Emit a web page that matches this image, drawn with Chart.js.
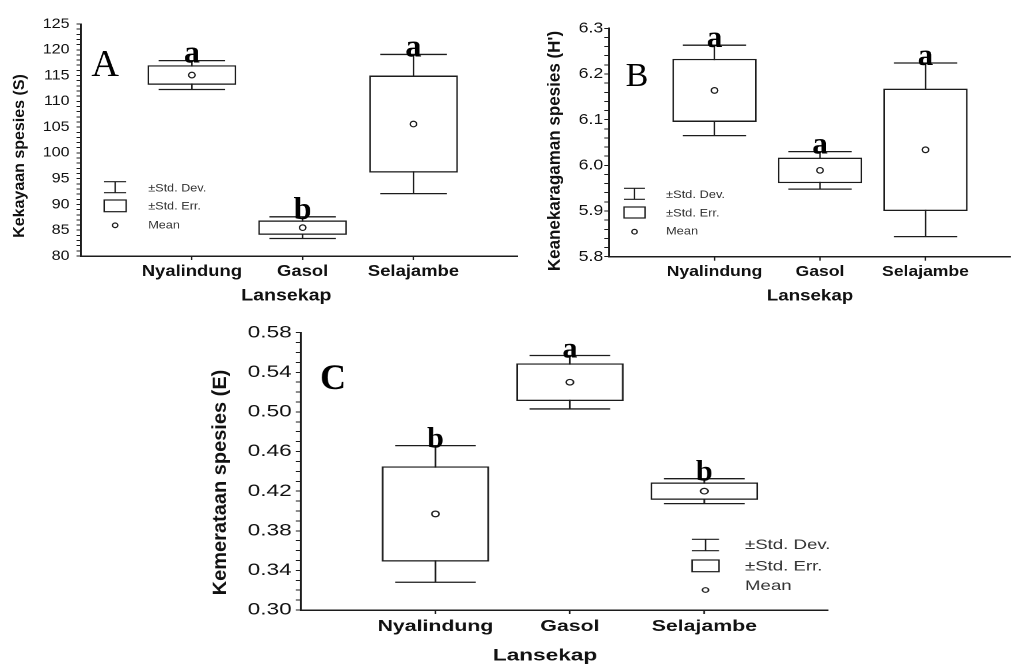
<!DOCTYPE html>
<html lang="id">
<head>
<meta charset="UTF-8">
<title>Kekayaan, keanekaragaman dan kemerataan spesies per lansekap</title>
<script src="https://cdn.jsdelivr.net/npm/chart.js"></script>
<style>
  html, body { margin: 0; padding: 0; background: #fff; }
  body { width: 1016px; height: 665px; position: relative; overflow: hidden; }
  .panel { position: absolute; transform-origin: 0 0; }
</style>
</head>
<body>
<div class="panel" id="panelA"><canvas id="chartA"></canvas></div>
<div class="panel" id="panelB"><canvas id="chartB"></canvas></div>
<div class="panel" id="panelC"><canvas id="chartC"></canvas></div>
<script>
// values: mean, ±std. err. (box) and ±std. dev. (whiskers)
const categories = ['Nyalindung', 'Gasol', 'Selajambe'];

const richnessMean = [115.1, 85.5, 105.6];
const richnessSE = [1.9, 1.4, 9.4];
const richnessSD = [2.8, 2.1, 13.5];
const richnessLetters = ['a', 'b', 'a'];
const richnessTicks = ['80', '85', '90', '95', '100', '105', '110', '115', '120', '125'];

const diversityMean = [6.164, 5.989, 6.034];
const diversitySE = [0.069, 0.028, 0.134];
const diversitySD = [0.099, 0.041, 0.19];
const diversityLetters = ['a', 'a', 'a'];
const diversityTicks = ['5.8', '5.9', '6.0', '6.1', '6.2', '6.3'];

const evennessMean = [0.397, 0.530, 0.420];
const evennessSE = [0.048, 0.019, 0.0088];
const evennessSD = [0.069, 0.027, 0.0126];
const evennessLetters = ['b', 'a', 'b'];
const evennessTicks = ['0.30', '0.34', '0.38', '0.42', '0.46', '0.50', '0.54', '0.58'];

const SANS = '"Liberation Sans", Arial, sans-serif';
const SERIF = '"Liberation Serif", "Times New Roman", serif';
const INK = '#1c1c1c';

// layout of each panel in page pixels; sx = horizontal stretch of the original figure
const panels = [
  {
    id: 'A', box: {left: 0, top: 0, w: 530, h: 310}, sx: 1.15,
    area: {l: 81, r: 517, t: 24, b: 256}, xMax: 3.94,
    means: richnessMean, se: richnessSE, sd: richnessSD, letters: richnessLetters,
    ticks: richnessTicks, minor: 1, digits: 0,
    yTitle: 'Kekayaan spesies (S)', yTitleAt: [20, 156], yTitleSize: 16,
    xTitleAt: [286, 296], xTitleSize: 17,
    tickSize: 14, tickPad: 6, catSize: 16, catPad: 2,
    label: 'A', labelAt: [105, 76], labelSize: 38, labelBold: false, letterSize: 32,
    legend: {x0: 104, x1: 126, tx: 148, dev: [181.7, 192.7, 188.3], err: [200, 211.7, 206.7], mean: [225.3, 225.3], size: 11}
  },
  {
    id: 'B', box: {left: 500, top: 0, w: 516, h: 310}, sx: 1.17,
    area: {l: 609, r: 1014, t: 28.3, b: 256.7}, xMax: 3.8,
    means: diversityMean, se: diversitySE, sd: diversitySD, letters: diversityLetters,
    ticks: diversityTicks, minor: 0.02, digits: 1,
    yTitle: "Keanekaragaman spesies (H')", yTitleAt: [555, 151], yTitleSize: 17,
    xTitleAt: [810, 296], xTitleSize: 16,
    tickSize: 15, tickPad: 1, catSize: 15, catPad: 2,
    label: 'B', labelAt: [637, 86], labelSize: 34, labelBold: false, letterSize: 31,
    legend: {x0: 624, x1: 645, tx: 666, dev: [188.3, 199.3, 195], err: [207, 218, 213.3], mean: [231.7, 231.7], size: 11}
  },
  {
    id: 'C', box: {left: 200, top: 310, w: 640, h: 355}, sx: 1.33,
    area: {l: 301, r: 828, t: 332.7, b: 610}, xMax: 3.92,
    means: evennessMean, se: evennessSE, sd: evennessSD, letters: evennessLetters,
    ticks: evennessTicks, minor: 0.01, digits: 2,
    yTitle: 'Kemerataan spesies (E)', yTitleAt: [220.5, 482.5], yTitleSize: 20,
    xTitleAt: [545, 656], xTitleSize: 17,
    tickSize: 17, tickPad: 3, catSize: 16, catPad: 3,
    label: 'C', labelAt: [333, 389], labelSize: 36, labelBold: true, letterSize: 30,
    legend: {x0: 692, x1: 719, tx: 745, dev: [539.3, 550.7, 545.3], err: [560, 571.7, 566.7], mean: [590, 586], size: 14}
  }
];

const decor = {
  id: 'decor',
  // std. dev. whiskers go under the white boxes
  beforeDatasetsDraw(chart, args, o) {
    const {ctx, scales: {x, y}} = chart;
    const half = (x.getPixelForValue(1) - x.getPixelForValue(0)) * 0.3;
    ctx.save();
    ctx.strokeStyle = INK;
    ctx.lineWidth = 1.3;
    o.means.forEach((m, i) => {
      const px = x.getPixelForValue(i + 1);
      const top = y.getPixelForValue(m + o.sd[i]);
      const bot = y.getPixelForValue(m - o.sd[i]);
      ctx.beginPath();
      ctx.moveTo(px, top); ctx.lineTo(px, bot);
      ctx.moveTo(px - half, top); ctx.lineTo(px + half, top);
      ctx.moveTo(px - half, bot); ctx.lineTo(px + half, bot);
      ctx.stroke();
    });
    ctx.restore();
  },
  afterDraw(chart, args, o) {
    const {ctx, scales: {x, y}} = chart;
    const P = (ax, ay) => [(ax - o.box.left) / o.sx, ay - o.box.top];
    ctx.save();

    // significance letters and panel label (not stretched in the original)
    ctx.fillStyle = '#000';
    ctx.textAlign = 'center';
    ctx.textBaseline = 'alphabetic';
    o.letters.forEach((t, i) => {
      ctx.save();
      ctx.translate(x.getPixelForValue(i + 1), y.getPixelForValue(o.means[i] + o.sd[i]) + 2);
      ctx.scale(1 / o.sx, 1);
      ctx.font = `bold ${o.letterSize}px ${SERIF}`;
      ctx.fillText(t, 0, 0);
      ctx.restore();
    });
    const [lx, ly] = P(...o.labelAt);
    ctx.save();
    ctx.translate(lx, ly);
    ctx.scale(1 / o.sx, 1);
    ctx.font = `${o.labelBold ? 'bold ' : ''}${o.labelSize}px ${SERIF}`;
    ctx.fillText(o.label, 0, 0);
    ctx.restore();

    // axis titles
    ctx.fillStyle = '#111';
    ctx.textBaseline = 'middle';
    ctx.font = `bold ${o.xTitleSize}px ${SANS}`;
    const [tx, ty] = P(...o.xTitleAt);
    ctx.fillText('Lansekap', tx, ty);
    const [vx, vy] = P(...o.yTitleAt);
    ctx.save();
    ctx.translate(vx, vy);
    ctx.scale(1 / o.sx, 1);
    ctx.rotate(-Math.PI / 2);
    ctx.font = `bold ${o.yTitleSize}px ${SANS}`;
    ctx.fillText(o.yTitle, 0, 0);
    ctx.restore();

    // legend
    const lg = o.legend;
    const [a, devTop] = P(lg.x0, lg.dev[0]);
    const [b, devBot] = P(lg.x1, lg.dev[1]);
    const errTop = lg.err[0] - o.box.top, errBot = lg.err[1] - o.box.top;
    const mid = (a + b) / 2;
    ctx.strokeStyle = INK;
    ctx.lineWidth = 1.2;
    ctx.beginPath();
    ctx.moveTo(a, devTop); ctx.lineTo(b, devTop);
    ctx.moveTo(a, devBot); ctx.lineTo(b, devBot);
    ctx.moveTo(mid, devTop); ctx.lineTo(mid, devBot);
    ctx.stroke();
    ctx.strokeRect(a, errTop, b - a, errBot - errTop);
    ctx.beginPath();
    ctx.arc(mid, lg.mean[0] - o.box.top, 2.3, 0, Math.PI * 2);
    ctx.fillStyle = '#fff';
    ctx.fill();
    ctx.stroke();
    ctx.fillStyle = '#333';
    ctx.textAlign = 'left';
    ctx.font = `${lg.size}px ${SANS}`;
    const textX = (lg.tx - o.box.left) / o.sx;
    ctx.fillText('\u00b1Std. Dev.', textX, lg.dev[2] - o.box.top);
    ctx.fillText('\u00b1Std. Err.', textX, lg.err[2] - o.box.top);
    ctx.fillText('Mean', textX, lg.mean[1] - o.box.top);
    ctx.restore();
  }
};

function makePanel(p) {
  const holder = document.getElementById('panel' + p.id);
  const innerW = p.box.w / p.sx;
  holder.style.left = p.box.left + 'px';
  holder.style.top = p.box.top + 'px';
  holder.style.width = innerW + 'px';
  holder.style.height = p.box.h + 'px';
  holder.style.transform = `scaleX(${p.sx})`;

  const left = (p.area.l - p.box.left) / p.sx;
  const right = (p.area.r - p.box.left) / p.sx;
  const top = p.area.t - p.box.top;
  const bottom = p.area.b - p.box.top;
  const yMin = parseFloat(p.ticks[0]);
  const yMax = parseFloat(p.ticks[p.ticks.length - 1]);

  new Chart(document.getElementById('chart' + p.id), {
    type: 'bar',
    data: {
      datasets: [{
        type: 'bar',
        label: '\u00b1Std. Err.',
        order: 2,
        data: p.means.map((m, i) => ({x: i + 1, y: [m - p.se[i], m + p.se[i]]})),
        backgroundColor: '#fff',
        borderColor: INK,
        borderWidth: 1.4,
        borderSkipped: false,
        categoryPercentage: 0.8,
        barPercentage: 1
      }, {
        type: 'scatter',
        label: 'Mean',
        order: 1,
        data: p.means.map((m, i) => ({x: i + 1, y: m})),
        pointRadius: 2.8,
        pointBackgroundColor: '#fff',
        pointBorderColor: INK,
        pointBorderWidth: 1.2
      }]
    },
    options: {
      responsive: true,
      maintainAspectRatio: false,
      devicePixelRatio: 2,
      animation: false,
      layout: {padding: {left: 0, top: top, right: innerW - right, bottom: 0}},
      plugins: {
        legend: {display: false},
        tooltip: {enabled: false},
        decor: p
      },
      scales: {
        x: {
          type: 'linear',
          min: 0,
          max: p.xMax,
          offset: false,
          afterBuildTicks: s => { s.ticks = categories.map((c, i) => ({value: i + 1})); },
          afterFit: s => { s.height = p.box.h - bottom; },
          ticks: {
            autoSkip: false,
            maxRotation: 0,
            color: '#111',
            padding: p.catPad,
            font: {family: SANS, size: p.catSize, weight: 'bold'},
            callback: v => categories[v - 1] || ''
          },
          grid: {offset: false, drawOnChartArea: false, tickLength: 4, tickColor: INK, tickWidth: 1.2},
          border: {display: true, color: INK, width: 1.5}
        },
        y: {
          type: 'linear',
          min: yMin,
          max: yMax,
          afterBuildTicks: s => {
            const n = Math.round((yMax - yMin) / p.minor);
            s.ticks = Array.from({length: n + 1}, (_, k) => ({value: +(yMin + k * p.minor).toFixed(4)}));
          },
          afterFit: s => { s.width = left; },
          ticks: {
            autoSkip: false,
            color: '#111',
            padding: p.tickPad,
            font: {family: SANS, size: p.tickSize},
            callback: v => {
              const hit = p.ticks.find(t => Math.abs(parseFloat(t) - v) < 1e-6);
              return hit || '';
            }
          },
          grid: {drawOnChartArea: false, tickLength: 4, tickColor: INK, tickWidth: 1},
          border: {display: true, color: INK, width: 1.5}
        }
      }
    },
    plugins: [decor]
  });
}

panels.forEach(makePanel);
</script>
</body>
</html>
